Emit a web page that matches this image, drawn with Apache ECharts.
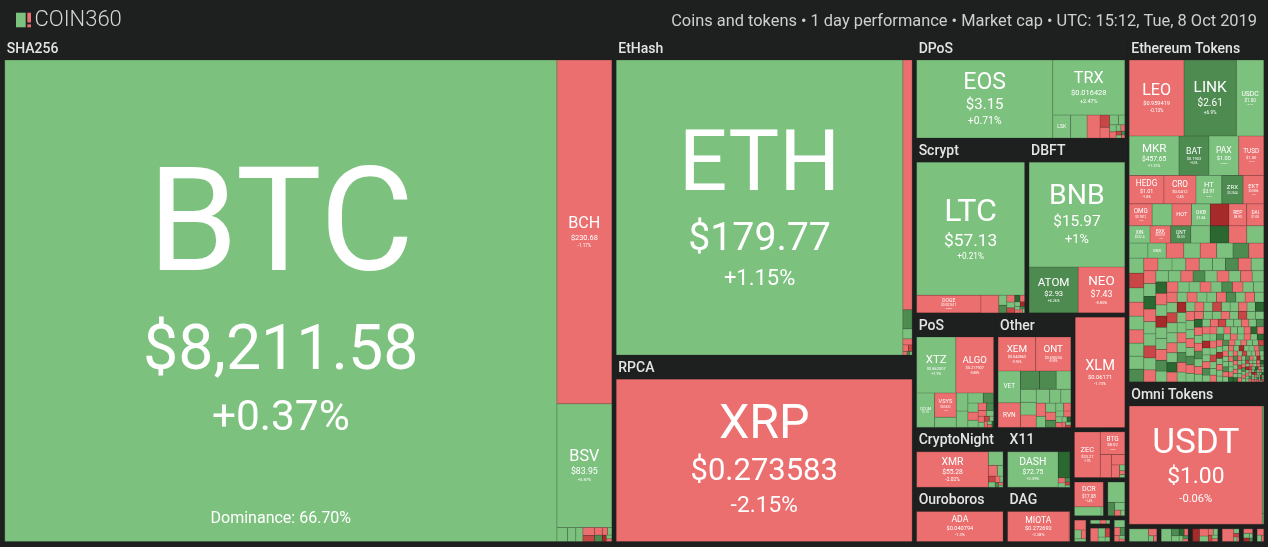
<!DOCTYPE html>
<html>
<head>
<meta charset="utf-8">
<script src="https://cdn.jsdelivr.net/npm/echarts@6.0.0/dist/echarts.min.js"></script>
<style>
html,body{margin:0;padding:0;background:#1e1f1f;overflow:hidden;}
#main{width:1268px;height:547px;}
</style>
</head>
<body>
<div id="main"></div>
<script>
// ================= DATA =================
const titleLeft  = 'COIN360';
const titleRight = 'Coins and tokens \u2022 1 day performance \u2022 Market cap \u2022 UTC: 15:12, Tue, 8 Oct 2019';

// Algorithm groups and their share of the map (box area incl. header)
const groupNames  = ['SHA256','EtHash','RPCA','DPoS','Scrypt','DBFT','PoS','Other','Stellar','CryptoNight','X11','Ouroboros','DAG','Ethereum Tokens','Omni Tokens'];
const groupShares = [309270, 95870, 56010, 21750, 19660, 17510, 9330, 8840, 6180, 5450, 4010, 4930, 3620, 48090, 19810];
const groupHeader = [true, true, true, true, true, true, true, true, false, true, true, true, true, true, true];

// SHA256
const sha256Coins  = ['BTC', 'BCH', 'BSV'];
const sha256Caps   = [265790, 18870, 6790];
const sha256Change = [0.37, -1.17, 0.87];
const sha256Prices = ['$8,211.58', '$230.68', '$83.95'];
const sha256MinorCaps   = [150, 115, 100, 95, 70, 60, 50, 40, 32, 25, 20, 15];
const sha256MinorChange = [1.2, 0.8, 1.5, -2.4, -7.5, -1.1, 6.2, -3.3, 2.0, -12.5, 0.6, -0.9];
const btcDominance = '66.70%';

// EtHash
const ethashCoins  = ['ETH', 'ETC'];
const ethashCaps   = [84520, 2316];
const ethashChange = [1.15, -1.62];
const ethashPrices = ['$179.77', '$4.51'];
const ethashMinorCaps   = [177, 93, 56, 37, 24, 15, 10, 8];
const ethashMinorChange = [6.4, 1.1, -1.8, -2.6, -8.1, -3.0, 7.2, 0.5];

// RPCA
const rpcaCoins = ['XRP'], rpcaCaps = [47910], rpcaChange = [-2.15], rpcaPrices = ['$0.273583'];

// DPoS
const dposCoins  = ['EOS', 'TRX', 'LSK'];
const dposCaps   = [10360, 3866, 400];
const dposChange = [0.71, 2.47, 1.3];
const dposPrices = ['$3.15', '$0.016428', '$0.7812'];
const dposMinorCaps   = [370, 290, 115, 100, 83, 60, 45, 40, 30, 25, 20, 15, 12, 10];
const dposMinorChange = [0.9, -2.1, -6.3, -1.4, 1.8, 2.2, 0.7, -3.5, 1.1, -2.2, -7.8, 0.4, 5.5, -1.0];

// Scrypt
const scryptCoins  = ['LTC', 'DOGE', 'MONA'];
const scryptCaps   = [14235, 1126, 313];
const scryptChange = [0.21, -0.85, -1.25];
const scryptPrices = ['$57.13', '$0.002611', '$1.15'];
const scryptMinorCaps   = [80, 60, 55, 45, 40, 35, 30, 25, 20, 18, 15, 12, 10, 8];
const scryptMinorChange = [1.4, 6.1, -1.9, 0.8, -8.2, 12.3, -2.5, 1.6, -11.4, 0.9, -3.1, 7.7, -0.6, 2.4];

// DBFT
const dbftCoins  = ['BNB', 'ATOM', 'NEO'];
const dbftCaps   = [9700, 2180, 2070];
const dbftChange = [1, 6.26, -0.85];
const dbftPrices = ['$15.97', '$2.93', '$7.43'];

// PoS
const posCoins  = ['XTZ', 'ALGO', 'QTUM', 'VSYS'];
const posCaps   = [2094, 2019, 592, 506];
const posChange = [1.9, -0.88, 1.2, -1.6];
const posPrices = ['$0.862007', '$0.217907', '$1.76', '$0.0532'];
const posMinorCaps   = [210, 200, 180, 150, 100, 90, 80, 70, 60, 50, 45, 40, 35, 30, 25, 20, 18, 15, 12, 10];
const posMinorChange = [0.8, 1.5, 2.1, 0.6, 6.8, 1.2, -1.7, 0.4, -2.3, 7.1, -1.2, 1.9, -0.7, 0.3, -9.2, 2.6, -1.5, 1.1, -0.4, 13.0];

// Other
const otherCoins  = ['XEM', 'ONT', 'VET', 'RVN'];
const otherCaps   = [1238, 1159, 694, 535];
const otherChange = [-0.96, -0.59, 0.42, -1.8];
const otherPrices = ['$0.040863', '$0.690234', '$0.004139', '$0.027704'];
const otherMinorCaps   = [340, 300, 260, 200, 195, 190, 180, 150, 135, 120, 100, 90, 80, 70, 60, 55, 45, 40, 35, 30, 25, 20, 18, 15, 12];
const otherMinorChange = [6.3, 5.8, 1.1, 0.9, 1.4, -1.2, 0.7, 2.2, 1.6, -2.0, 0.5, 1.8, -1.1, 7.4, 0.6, -3.0, 1.0, -0.8, 2.9, -1.5, 0.4, 11.2, -2.7, 1.3, -6.1];

// Stellar
const stellarCoins = ['XLM'], stellarCaps = [5200], stellarChange = [-1.73], stellarPrices = ['$0.06171'];

// CryptoNight
const cnCoins = ['XMR'], cnCaps = [2530], cnChange = [-2.02], cnPrices = ['$55.28'];
const cnMinorCaps   = [200, 95, 60, 40, 35, 30, 20, 15, 12, 10];
const cnMinorChange = [0.9, -1.4, 1.6, -8.5, 0.7, -2.2, 1.2, 6.6, -0.5, 2.0];

// X11
const x11Coins = ['DASH'], x11Caps = [1760], x11Change = [2.39], x11Prices = ['$72.75'];
const x11MinorCaps   = [300, 35, 30, 20, 15, 10];
const x11MinorChange = [14.5, -1.2, 0.9, 6.2, -9.3, 1.4];

// Ouroboros / DAG
const ouroCoins = ['ADA'], ouroCaps = [2560], ouroChange = [-1.3], ouroPrices = ['$0.040794'];
const dagCoins = ['MIOTA'], dagCaps = [1850], dagChange = [-2.28], dagPrices = ['$0.272692'];
const dagMinorCaps = [25], dagMinorChange = [-1.1];

// Ethereum Tokens
const erc20Coins  = ['LEO','LINK','USDC','MKR','BAT','PAX','TUSD','HEDG','CRO','HT','ZRX','EKT','OMG','SXP','HOT','OKB','NPXS','REP','DAI','XIN','BXK','QNT','SNX'];
const erc20Caps   = [4012, 3841, 2006, 1892, 1144, 1131, 955, 950, 880, 708, 585, 567, 484, 420, 414, 398, 392, 377, 362, 346, 346, 334, 267];
const erc20Change = [-0.13, 6.9, 0.12, 1.22, 5.6, 0.05, -0.4, -1.8, -2.4, 0.9, 5.2, -1.3, -1.6, 1.3, -2.1, 1.4, -12.4, -1.9, -0.6, 0.8, -1.2, 5.9, 2.3];
const erc20Prices = ['$0.959419','$2.61','$1.00','$457.65','$0.1953','$1.00','$1.00','$1.01','$0.0412','$3.91','$0.2344','$0.0386','$0.7812',null,'$0.000246','$1.84',null,'$8.93','$1.00','$232.4','$0.0157','$5.03','$0.9012'];
const erc20TopRow = ['LEO', 'LINK', 'USDC'];
const erc20MinorCaps = [
  323, 312, 300, 285, 270, 255, 240, 238, 238, 230, 218, 210, 205, 200,
  195, 190, 187, 182, 180, 176, 172, 170, 166, 163, 160, 158, 155, 155, 152, 150, 150,
  148, 145, 142, 140, 140, 139, 139, 136, 134, 132, 130, 130, 128, 126, 125, 125, 123, 122, 120, 120,
  118, 118, 116, 115, 113, 112, 112, 110, 110, 108, 107, 106, 105, 104, 103, 101, 100, 100, 100,
  99, 98, 96, 96, 95, 95, 94, 92, 92, 91, 90, 90, 88, 88, 87, 86, 85, 84, 84, 83,
  82, 80, 80, 80, 79, 78, 76, 76, 75, 75, 74, 73, 72, 72, 70, 70, 69, 68, 68, 67,
  66, 65, 65, 64, 64, 63, 62, 62, 61, 60, 60, 60,
  59, 58, 58, 57, 56, 56, 55, 55, 54, 54, 53, 52, 52, 51, 50, 50, 50, 49, 48, 48,
  47, 47, 46, 46, 45, 45, 44, 44, 43, 43, 42, 42, 41, 41, 40, 40, 40, 39, 38, 38,
  38, 37, 36, 36, 35, 35, 34, 34, 33, 32, 32, 32, 31, 30, 30, 30,
  29, 29, 28, 28, 28, 27, 27, 26, 26, 26, 25, 25, 24, 24, 24, 23, 23, 22, 22, 22,
  21, 21, 20, 20, 20, 20, 19, 19, 18, 18, 18, 18, 17, 17, 17, 16, 16, 16, 16, 15,
  15, 15, 14, 14, 14, 14, 13, 13, 13, 12, 12, 12, 12, 12, 11, 11, 11, 11, 10, 10, 10, 10,
  9, 9, 9, 9, 9, 8, 8, 8, 8, 8, 7, 7, 7, 7, 7, 7, 6, 6, 6, 6,
  6, 6, 5, 5, 5, 5, 5, 4, 4, 4, 4, 4, 4, 4, 3, 3, 3, 3, 3, 3
];
const erc20MinorChange = [
  0.9, 11.8, -1.1, 1.6, 0.4, -2.3, 1.2, -1.4,
  1.7, 6.2, -2.1, 0.6, -6.3, 1.0, -0.7, 2.4, -1.8, 0.8,
  1.5, 5.4, -0.9, 0.3, 2.2, -3.1, 1.1, 0.7, 7.3, -1.2,
  0.5, -2.6, 1.9, 12.6, -0.4, 1.4, 0.2, -7.1, 2.8, -1.5,
  1.2, 0.6, -1.9, 5.8, 0.9, -0.8, 1.7, -2.4, 0.4, 14.1,
  -1.3, 2.1, -11.2, 0.8, 1.5, -0.6, 6.7, 1.0, -2.8, 0.3,
  1.8, -1.0, 0.7, 8.9, -3.4, 1.3, 0.5, -1.7, 2.6, -5.9,
  0.9, 1.1, -0.5, 1.6, 10.4, -2.2, 0.4, -1.1, 1.9, 0.6,
  -1.6, 5.1, 0.8, -0.9, 1.4, -13.5, 2.3, 0.2, -2.0, 1.0,
  7.6, -1.4, 0.6, 1.2, -0.3, 2.7, -6.8, 1.5, 0.9, -1.2,
  1.3, 11.1, -2.5, 0.5, 1.8, -0.8, 0.4, 6.1, -1.9, 1.1,
  -3.7, 0.7, 1.6, -1.0, 2.0, -9.4, 0.3, 1.4, 12.9, -0.6,
  0.8, -1.5, 5.6, 1.0, -2.4, 0.6, 1.9, -0.2, -7.7, 2.2,
  1.1, -1.3, 0.5, 8.2, -0.9, 1.7, -14.2, 0.4, 1.2, -2.1,
  6.4, 0.9, -1.1, 1.5, -0.5, 2.5, 0.2, -3.0, 10.8, -1.6,
  1.0, -0.4, 0.7, -6.1, 1.9, 0.3, -1.8, 5.3, 1.4, -1.0,
  0.6, -2.7, 1.2, 13.4, -0.7, 0.8, -11.9, 1.6, -1.4, 2.1,
  0.4, 7.9, -0.9, 1.3, -2.2, 0.5, 1.8, -8.6, 0.9, -1.2,
  1.5, 0.2, 6.6, -1.7, 1.0, -0.3, 2.4, -12.3, 0.7, 1.1,
  -1.5, 9.7, 0.6, -2.9, 1.3, 0.8, -0.6, 15.2, -1.0, 1.7,
  -5.5, 0.4, 1.9, -1.3, 0.9, 7.1, -0.8, 1.2, -2.4, 0.5,
  11.6, -1.1, 1.4, -7.3, 0.3, 1.0, -0.5, 2.2, 5.9, -1.9,
  0.7, -13.1, 1.6, 0.2, -1.2, 8.4, 1.1, -0.9, 0.6, -6.6,
  1.8, 0.5, -1.6, 12.2, 1.3, -0.4, 0.9, -2.6, 6.8, -10.5,
  1.2, -1.0, 0.4, 1.5, -8.1, 0.8, 14.6, -1.4, 1.0, -0.7,
  2.0, 5.2, -2.3, 0.6, -11.4, 1.4, 0.3, -1.8, 9.1, 0.9,
  -0.6, 1.7, -6.9, 0.5, 1.1, 13.8, -1.5, 0.8, -2.0, 1.3,
  7.4, -0.9, 1.6, -14.8, 0.4, 1.0, -1.1, 10.2, 0.7, -7.5,
  1.2, -0.5
];

// Omni Tokens
const omniCoins = ['USDT'], omniCaps = [15441], omniChange = [-0.06], omniPrices = ['$1.00'];
const omniMinorCaps = [150, 15], omniMinorChange = [0.4, 1.2];

// Small head-less algorithm groups (column under "Other")
const miscGroupNames  = ['Equihash', 'Blake256', 'Lyra2REv2', 'Groestl', 'NeoScrypt', 'Keccak', 'Scrypt-N'];
const miscGroupShares = [2750, 1273, 817, 412, 193, 425, 386];
const miscGroupCoins  = [['ZEC', 'BTG', 'KMD'], ['DCR'], [], [], [], [], []];
const miscGroupCoinCaps   = [[1150, 540, 250], [700], [], [], [], [], []];
const miscGroupCoinChange = [[-1.9, -2.6, -1.3], [-1.4], [], [], [], [], []];
const miscGroupCoinPrices = [['$33.27', '$8.02', '$0.6213'], ['$17.08'], [], [], [], [], []];
const miscGroupMinorCaps   = [[135, 100, 30, 20, 15], [230, 20], [307, 80, 70, 30, 20], [110, 60, 40, 30], [40, 25, 15], [100, 60, 40, 30, 20], [80, 50, 40, 30, 20, 15]];
const miscGroupMinorChange = [[-1.1, -2.0, 1.2, -0.8, 0.9], [0.8, 1.5], [1.1, 6.2, 0.7, -1.4, 2.0], [-1.6, 0.9, -2.2, 1.3], [1.2, -0.9, 0.6], [-1.8, 1.0, -6.4, 0.5, 1.7], [0.8, -1.2, 5.7, -0.6, 1.4, -2.2]];

// Small token platforms (row under Omni Tokens)
const tokenGroupNames  = ['NEO Tokens', 'TRON Tokens', 'Binance Chain', 'Waves Tokens', 'Stellar Tokens', 'EOS Tokens'];
const tokenGroupShares = [549, 538, 509, 366, 233, 191];
const tokenGroupMinorCaps   = [[260, 60, 30, 20], [150, 60, 50, 40, 30, 25, 20, 15], [110, 80, 60, 40, 35, 30, 25, 20], [150, 25, 20, 15, 10], [40, 25, 20, 15, 10], [30, 20, 10]];
const tokenGroupMinorChange = [[1.2, -1.5, 0.7, -0.9], [1.4, 6.3, 0.8, 12.1, -1.6, 0.5, 7.2, -2.4], [-11.3, -1.4, 0.9, -2.5, 1.1, -6.8, 0.6, -1.2], [-1.7, 0.6, -8.4, 1.2, -0.9], [-2.1, 1.3, -12.6, 0.4, 6.6], [-1.3, 0.8, -0.5]];

// ================= STYLE =================
const BG = '#1e1f1f';
const FONT = 'Roboto, "Noto Sans", sans-serif';
const LEAF_BORDER = 0.5;
const GROUP_BORDER = 2.25;
const HEADER_H = 22;

function chgColor(c) {
  if (c >= 10) return '#2b6731';
  if (c >= 5) return '#4e8b51';
  if (c >= 0) return '#7dc17f';
  if (c > -5) return '#ec6f6f';
  if (c > -10) return '#c84646';
  return '#a62a2a';
}
function darker(hex, k) {
  const n = parseInt(hex.slice(1), 16);
  return 'rgb(' + Math.round(((n >> 16) & 255) * k) + ',' + Math.round(((n >> 8) & 255) * k) + ',' + Math.round((n & 255) * k) + ')';
}
function fmtChange(c) { return (c >= 0 ? '+' : '-') + Math.abs(c) + '%'; }

// ================= TREE BUILD =================
function makeLeaf(name, value, change, price) {
  const c = (change == null ? 0 : change);
  const col = chgColor(c);
  return { name: name, value: value, change: c, price: price,
    itemStyle: { color: col, borderColor: darker(col, 0.8), borderWidth: LEAF_BORDER, gapWidth: 0 } };
}
function makeLeaves(prefix, names, caps, changes, prices, minorCaps, minorChanges) {
  const out = [];
  (names || []).forEach(function (n, i) { out.push(makeLeaf(n, caps[i], changes[i], prices[i])); });
  (minorCaps || []).forEach(function (v, i) { out.push(makeLeaf(prefix + ' #' + (i + 1), v, (minorChanges || [])[i], null)); });
  out.sort(function (a, b) { return b.value - a.value; });
  return out;
}
function makeGroup(name, share, children, header) {
  return { name: name, value: share, children: children,
    itemStyle: { color: BG, borderColor: BG, borderWidth: GROUP_BORDER, gapWidth: 0 },
    upperLabel: header ? { show: true, height: HEADER_H, color: '#e4e4e4', fontSize: 14, fontWeight: 500,
      fontFamily: FONT, padding: [0, 0, 0, 2], overflow: 'truncate' } : { show: false } };
}
function makeWrap(name, children) {
  return { name: name, children: children,
    itemStyle: { color: BG, borderColor: BG, borderWidth: 0, gapWidth: 0 }, upperLabel: { show: false } };
}
function G(i, leaves) { return makeGroup(groupNames[i], groupShares[i], leaves, groupHeader[i]); }

function erc20Children() {
  const all = makeLeaves('ERC20', erc20Coins, erc20Caps, erc20Change, erc20Prices, erc20MinorCaps, erc20MinorChange);
  const top = all.filter(function (l) { return erc20TopRow.indexOf(l.name) >= 0; });
  const rest = all.filter(function (l) { return erc20TopRow.indexOf(l.name) < 0; });
  return [makeWrap('_erc20top', top)].concat(rest);
}

function buildTree() {
  const sha = makeLeaves('SHA256', sha256Coins, sha256Caps, sha256Change, sha256Prices, sha256MinorCaps, sha256MinorChange);
  sha.forEach(function (l) { if (l.name === 'BTC') l.dominance = btcDominance; });
  const misc = miscGroupNames.map(function (n, i) {
    return makeGroup(n, miscGroupShares[i], makeLeaves(n, miscGroupCoins[i], miscGroupCoinCaps[i], miscGroupCoinChange[i], miscGroupCoinPrices[i], miscGroupMinorCaps[i], miscGroupMinorChange[i]), false);
  });
  const tokens = tokenGroupNames.map(function (n, i) {
    return makeGroup(n, tokenGroupShares[i], makeLeaves(n, [], [], [], [], tokenGroupMinorCaps[i], tokenGroupMinorChange[i]), false);
  });
  return [
    G(0, sha),
    makeWrap('_wx', [
      makeWrap('_wer', [
        G(1, makeLeaves('EtHash', ethashCoins, ethashCaps, ethashChange, ethashPrices, ethashMinorCaps, ethashMinorChange)),
        G(2, makeLeaves('RPCA', rpcaCoins, rpcaCaps, rpcaChange, rpcaPrices))
      ]),
      makeWrap('_w2', [
        G(3, makeLeaves('DPoS', dposCoins, dposCaps, dposChange, dposPrices, dposMinorCaps, dposMinorChange)),
        makeWrap('_wsd', [
          G(4, makeLeaves('Scrypt', scryptCoins, scryptCaps, scryptChange, scryptPrices, scryptMinorCaps, scryptMinorChange)),
          G(5, makeLeaves('DBFT', dbftCoins, dbftCaps, dbftChange, dbftPrices))
        ]),
        makeWrap('_wpox', [
          G(6, makeLeaves('PoS', posCoins, posCaps, posChange, posPrices, posMinorCaps, posMinorChange)),
          G(7, makeLeaves('Other', otherCoins, otherCaps, otherChange, otherPrices, otherMinorCaps, otherMinorChange)),
          G(8, makeLeaves('Stellar', stellarCoins, stellarCaps, stellarChange, stellarPrices))
        ]),
        makeWrap('_wbot', [
          makeWrap('_wbl', [
            makeWrap('_wl', [
              G(9, makeLeaves('CryptoNight', cnCoins, cnCaps, cnChange, cnPrices, cnMinorCaps, cnMinorChange)),
              G(11, makeLeaves('Ouroboros', ouroCoins, ouroCaps, ouroChange, ouroPrices))
            ]),
            makeWrap('_wr', [
              G(10, makeLeaves('X11', x11Coins, x11Caps, x11Change, x11Prices, x11MinorCaps, x11MinorChange)),
              G(12, makeLeaves('DAG', dagCoins, dagCaps, dagChange, dagPrices, dagMinorCaps, dagMinorChange))
            ])
          ]),
          makeWrap('_misc', misc)
        ])
      ])
    ]),
    makeWrap('_w3', [
      G(13, erc20Children()),
      G(14, makeLeaves('Omni', omniCoins, omniCaps, omniChange, omniPrices, omniMinorCaps, omniMinorChange))
    ].concat(tokens))
  ];
}

// ================= LABELS (sized to the cell the library laid out) =================
const measureCtx = document.createElement('canvas').getContext('2d');
function em(str) { measureCtx.font = '100px Roboto'; return Math.max(measureCtx.measureText(str).width / 100, 0.3); }

function labelFor(d, lay) {
  const w = lay.width - 2 * LEAF_BORDER, h = lay.height - 2 * LEAF_BORDER;
  if (!d.price || w < 4 || h < 4) return null;
  const chg = fmtChange(d.change);
  const fn = Math.min(0.3 * Math.min(w, h), 0.66 * w / em(d.name));
  if (fn < 4) return null;
  const fp = Math.min(0.65 * fn, 0.5 * w / em(d.price));
  const fc = Math.min(0.47 * fn, 0.25 * w / em(chg));
  const parts = [{ k: 'nm', t: d.name, f: fn, l: fn * 1.12 }];
  if (fp >= 2.5) parts.push({ k: 'pr', t: d.price, f: fp, l: fp * 1.22 });
  if (fp >= 2.5 && fc >= 2) parts.push({ k: 'ch', t: chg, f: fc, l: fc * 1.35 });
  let M = parts.reduce(function (s, p) { return s + p.l; }, 0);
  if (M > h * 0.96) { const k = h * 0.96 / M; parts.forEach(function (p) { p.f *= k; p.l *= k; }); M *= k; }
  const top = Math.max((h - M) / 2, 0.01);
  const rich = { sp: { fontSize: 1, lineHeight: top } };
  let text = '{sp| }';
  parts.forEach(function (p) {
    rich[p.k] = { fontSize: p.f, lineHeight: p.l, color: '#fff', fontFamily: FONT, align: 'center' };
    text += '\n{' + p.k + '|' + p.t + '}';
  });
  if (d.dominance) {
    const domLine = 20;
    const gap = (h - 22) - domLine / 2 - (top + M);
    if (gap > 0) {
      rich.sp2 = { fontSize: 1, lineHeight: gap };
      rich.dm = { fontSize: 16, lineHeight: domLine, color: '#fff', fontFamily: FONT, align: 'center' };
      text += '\n{sp2| }\n{dm|Dominance: ' + d.dominance + '}';
    }
  }
  return { show: true, position: 'inside', padding: 0, overflow: 'none',
    formatter: function () { return text; }, rich: rich };
}
function attachLabels(nodes, layouts) {
  nodes.forEach(function (n) {
    if (n.children) attachLabels(n.children, layouts);
    else if (n.price && layouts[n.name]) { const lb = labelFor(n, layouts[n.name]); if (lb) n.label = lb; }
  });
}

// ================= CHART =================
const chart = echarts.init(document.getElementById('main'));
const treeData = buildTree();

function makeOption(data) {
  return {
    backgroundColor: BG,
    animation: false,
    graphic: [
      { type: 'rect', shape: { x: 16, y: 12.7, width: 9.7, height: 14.6 }, style: { fill: '#7dc17f' } },
      { type: 'rect', shape: { x: 27.3, y: 12.7, width: 3.7, height: 9.8 }, style: { fill: '#ec6f6f' } },
      { type: 'rect', shape: { x: 27.3, y: 24.4, width: 3.7, height: 2.9 }, style: { fill: '#ec6f6f' } },
      { type: 'text', style: { text: titleLeft, x: 34.5, y: 20.3, fill: '#d6d6d6', fontSize: 22, fontFamily: FONT, fontWeight: 300,
          align: 'left', verticalAlign: 'middle', textAlign: 'left', textVerticalAlign: 'middle' } },
      { type: 'text', style: { text: titleRight, x: 1257, y: 22, fill: '#cfcfcf', fontSize: 16.4, fontFamily: FONT,
          align: 'right', verticalAlign: 'middle', textAlign: 'right', textVerticalAlign: 'middle' } }
    ],
    series: [{
      type: 'treemap',
      left: 2.5, top: 38, right: 2, bottom: 3.25,
      roam: false, nodeClick: false, silent: true,
      breadcrumb: { show: false },
      sort: false,
      squareRatio: 1,
      visibleMin: 0,
      label: { show: false },
      upperLabel: { show: false },
      itemStyle: { color: BG, borderColor: BG, borderWidth: 0, gapWidth: 0 },
      levels: [],
      data: data
    }]
  };
}

chart.setOption(makeOption(treeData));
try {
  const model = chart.getModel ? chart.getModel() : chart._model;
  const sd = model.getSeriesByIndex(0).getData();
  const layouts = {};
  for (let i = 0; i < sd.count(); i++) { layouts[sd.getName(i)] = sd.getItemLayout(i); }
  attachLabels(treeData, layouts);
  chart.setOption(makeOption(treeData), true);
} catch (e) { console.error(e); }
</script>
</body>
</html>
